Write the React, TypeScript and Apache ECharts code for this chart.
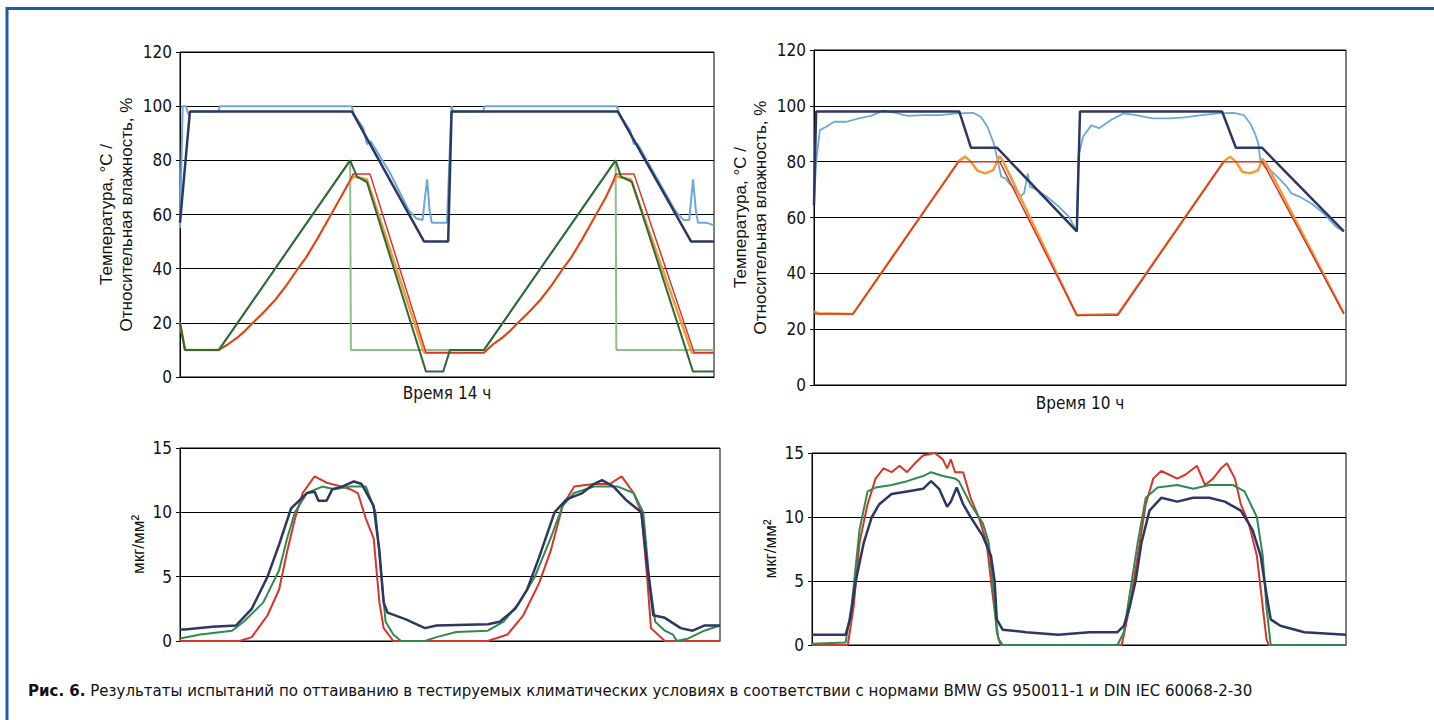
import React, { useEffect, useRef } from "react";
import * as echarts from "echarts";

type Pt = [number, number];

// ---------- Panel 1: 14 h test (temperature °C / RH %) ----------
const p1HumidityMeasured: Pt[] = [
  [0, 55], [0.07, 100], [0.15, 100], [0.22, 97], [0.3, 98], [1.0, 98], [1.05, 100], [4.5, 100],
  [4.56, 97], [4.8, 92], [4.9, 86], [5.0, 87], [5.5, 75.5], [6.0, 61.5], [6.2, 58.5], [6.36, 58],
  [6.42, 66], [6.48, 73], [6.54, 62], [6.6, 57], [6.69, 57], [7.0, 57], [7.05, 75], [7.12, 100],
  [7.16, 98], [7.94, 98], [7.99, 100], [11.45, 100], [11.52, 97], [11.8, 91], [11.9, 86],
  [12.0, 86], [12.5, 73.5], [13.0, 61], [13.2, 58], [13.35, 58], [13.45, 73], [13.52, 62],
  [13.58, 57], [13.8, 57], [14.0, 56],
];
const p1HumiditySet: Pt[] = [
  [0, 57], [0.26, 98], [4.51, 98], [6.4, 50], [7.0, 50], [7.03, 50], [7.12, 98],
  [11.48, 98], [13.4, 50], [14.0, 50],
];
const p1TempSet: Pt[] = [
  [0, 20], [0.13, 10], [1.02, 10], [4.46, 80], [4.64, 74], [4.9, 72], [6.45, 2], [6.9, 2],
  [7.08, 10], [7.97, 10], [11.42, 80], [11.56, 74], [11.85, 72], [13.45, 2], [14.0, 2],
];
const p1TempChamber: Pt[] = [
  [0, 20], [0.13, 10], [1.02, 10], [4.46, 80], [4.48, 10], [7.97, 10], [11.42, 80],
  [11.44, 10], [14.0, 10],
];
const p1TempSample: Pt[] = [
  [0, 20], [0.13, 10], [1.02, 10], [1.25, 12], [1.5, 14.5], [1.7, 17], [1.91, 20], [2.2, 24],
  [2.5, 28.5], [2.8, 34], [3.09, 40], [3.3, 44], [3.6, 51], [3.96, 60], [4.2, 66], [4.4, 71],
  [4.54, 74], [4.9, 73], [6.4, 9], [7.97, 9], [8.2, 12], [8.45, 14.5], [8.65, 17], [8.86, 20],
  [9.15, 24], [9.45, 28.5], [9.75, 34], [10.04, 40], [10.25, 44], [10.55, 51], [10.91, 60],
  [11.15, 66], [11.32, 71], [11.43, 74], [11.82, 73], [13.42, 9], [14.0, 9],
];
const p1TempSurface: Pt[] = [
  [0, 20], [0.13, 10], [1.02, 10], [1.25, 12], [1.5, 14.5], [1.7, 17], [1.91, 20], [2.2, 24],
  [2.5, 28.5], [2.8, 34], [3.09, 40], [3.3, 44], [3.6, 51], [3.96, 60], [4.2, 66], [4.4, 71],
  [4.54, 75], [4.98, 75], [6.45, 9], [7.97, 9], [8.2, 12], [8.45, 14.5], [8.65, 17], [8.86, 20],
  [9.15, 24], [9.45, 28.5], [9.75, 34], [10.04, 40], [10.25, 44], [10.55, 51], [10.91, 60],
  [11.15, 66], [11.32, 71], [11.43, 75], [11.9, 75], [13.48, 9], [14.0, 9],
];

// ---------- Panel 2: 10 h test ----------
const p2HumidityMeasured: Pt[] = [
  [0, 64.5], [0.04, 80], [0.11, 91.3], [0.23, 92.5], [0.38, 94.3], [0.61, 94.3], [0.84, 95.5],
  [1.07, 96.4], [1.3, 98.3], [1.53, 97.5], [1.76, 96.4], [2.07, 96.7], [2.38, 96.7], [2.68, 97.3],
  [2.99, 97.5], [3.14, 96], [3.26, 92.5], [3.33, 89], [3.39, 86], [3.45, 80.6], [3.52, 74.6],
  [3.6, 74], [3.68, 72], [3.75, 71], [3.87, 67.5], [3.95, 68.7], [4.02, 75.8], [4.06, 71],
  [4.18, 70], [4.37, 67.5], [4.6, 63.9], [4.79, 60.3], [4.94, 55], [4.97, 81.8], [5.06, 89],
  [5.21, 93], [5.36, 92], [5.59, 95], [5.82, 97.3], [6.05, 96.7], [6.36, 95.5], [6.67, 95.5],
  [6.97, 95.9], [7.28, 96.7], [7.59, 97.3], [7.89, 97.5], [8.08, 96.7], [8.2, 93.7], [8.29, 90],
  [8.35, 86.6], [8.39, 80.6], [8.47, 78.2], [8.58, 77], [8.74, 74], [8.89, 71], [8.97, 68.7],
  [9.12, 67.5], [9.35, 65], [9.58, 61.5], [9.81, 56.7], [9.96, 55],
];
const p2HumiditySet: Pt[] = [
  [0, 64.5], [0.04, 98], [2.73, 98], [2.95, 85], [3.44, 85], [4.94, 55], [5.0, 98],
  [7.67, 98], [7.93, 85], [8.42, 85], [9.96, 55],
];
const p2TempSample: Pt[] = [
  [0, 26.3], [0.08, 25.7], [0.73, 25.4], [2.72, 80.2], [2.84, 81.8], [2.95, 80], [3.07, 76.8],
  [3.22, 75.8], [3.37, 77], [3.49, 82], [3.56, 80], [4.94, 25], [5.71, 25.4], [7.7, 80],
  [7.82, 81.8], [7.93, 80], [8.05, 76.4], [8.2, 75.8], [8.35, 77], [8.43, 81], [8.51, 79],
  [9.96, 25.7],
];
const p2TempChamber: Pt[] = [
  [0, 25.8], [0.08, 25.4], [0.73, 25.4], [2.72, 80], [3.49, 80], [4.94, 25], [5.71, 25],
  [7.7, 80], [8.43, 80], [9.96, 25.5],
];

// ---------- Panel 3: 14 h test, condensed water µg/mm² ----------
const p3Red: Pt[] = [
  [0, 0], [1.55, 0], [1.86, 0.3], [2.27, 2], [2.57, 4], [2.78, 7], [2.98, 9.5], [3.18, 11.5],
  [3.49, 12.8], [3.8, 12.3], [4.2, 12], [4.41, 11.8], [4.61, 11.5], [4.82, 9.5], [5.02, 8],
  [5.17, 3], [5.28, 1], [5.53, 0], [7.98, 0], [8.49, 0.5], [8.9, 2], [9.31, 4.5], [9.61, 7],
  [9.92, 10.5], [10.22, 12], [10.73, 12.2], [11.14, 12.2], [11.45, 12.8], [11.76, 11.5],
  [11.96, 10], [12.11, 5], [12.21, 1], [12.57, 0], [14.0, 0],
];
const p3Green: Pt[] = [
  [0, 0.2], [0.53, 0.5], [1.35, 0.8], [1.65, 1.5], [2.16, 3], [2.57, 5.5], [2.78, 8], [2.98, 10],
  [3.29, 11.5], [3.69, 12], [4.0, 11.8], [4.41, 12], [4.82, 12], [5.07, 10], [5.22, 5],
  [5.33, 1.5], [5.53, 0.5], [5.73, 0], [6.35, 0], [6.65, 0.3], [7.16, 0.7], [7.98, 0.8],
  [8.39, 1.5], [8.8, 3], [9.2, 5], [9.61, 8], [9.92, 10.5], [10.22, 11.5], [10.73, 12],
  [11.35, 12], [11.76, 11.5], [12.01, 10], [12.16, 5], [12.32, 1.5], [12.57, 0.8], [12.78, 0.5],
  [12.88, 0], [13.18, 0.2], [13.59, 0.8], [14.0, 1.2],
];
const p3Navy: Pt[] = [
  [0, 0.9], [0.12, 0.9], [0.84, 1.1], [1.45, 1.2], [1.86, 2.5], [2.27, 5], [2.57, 7.5],
  [2.88, 10.3], [3.29, 11.5], [3.49, 11.6], [3.59, 10.9], [3.8, 10.9], [3.95, 11.8], [4.2, 12],
  [4.51, 12.4], [4.71, 12.2], [5.02, 10.5], [5.17, 7], [5.28, 3], [5.38, 2.2], [5.84, 1.7],
  [6.35, 1.0], [6.65, 1.2], [7.98, 1.3], [8.29, 1.5], [8.69, 2.5], [9.0, 4], [9.31, 6.5],
  [9.71, 10], [10.02, 11], [10.43, 11.5], [10.73, 12.2], [10.94, 12.5], [11.24, 12],
  [11.55, 11], [11.96, 10], [12.11, 6], [12.27, 2], [12.57, 1.8], [12.98, 1], [13.29, 0.8],
  [13.59, 1.2], [14.0, 1.2],
];

// ---------- Panel 4: 10 h test, condensed water µg/mm² ----------
const p4Red: Pt[] = [
  [0, 0], [0.67, 0], [0.78, 3], [0.89, 8], [1.04, 11], [1.19, 13], [1.34, 13.8], [1.49, 13.5],
  [1.64, 14], [1.78, 13.5], [1.93, 14.2], [2.08, 14.8], [2.3, 15], [2.45, 14.5], [2.53, 13.8],
  [2.6, 14.5], [2.68, 13.5], [2.83, 13.5], [2.97, 11.5], [3.12, 10], [3.27, 8], [3.38, 4],
  [3.49, 0.5], [3.57, 0], [5.8, 0], [5.95, 3], [6.1, 7], [6.25, 11], [6.39, 13], [6.54, 13.6],
  [6.69, 13.3], [6.84, 13], [6.99, 13.3], [7.21, 14], [7.36, 12.5], [7.51, 13], [7.66, 13.8],
  [7.77, 14.2], [7.92, 13], [8.03, 11], [8.18, 9.5], [8.33, 7], [8.44, 3], [8.51, 0.5],
  [8.55, 0], [9.29, 0],
];
const p4Green: Pt[] = [
  [0, 0.1], [0.63, 0.2], [0.74, 3], [0.89, 9], [1.04, 12], [1.19, 12.3], [1.49, 12.5],
  [1.78, 12.8], [2.08, 13.2], [2.23, 13.5], [2.45, 13.2], [2.68, 13], [2.75, 12.8], [2.97, 11],
  [3.2, 9.5], [3.31, 8], [3.38, 5], [3.46, 1], [3.53, 0], [5.72, 0], [5.84, 1], [5.95, 4],
  [6.1, 8], [6.25, 11.5], [6.47, 12.3], [6.84, 12.5], [7.14, 12.2], [7.44, 12.5], [7.88, 12.5],
  [8.1, 12], [8.33, 10], [8.44, 7], [8.51, 3], [8.59, 0], [10.0, 0],
];
const p4Navy: Pt[] = [
  [0, 0.8], [0.63, 0.8], [0.71, 2], [0.82, 5], [0.97, 8], [1.12, 10], [1.26, 11], [1.49, 11.8],
  [1.78, 12], [2.08, 12.2], [2.23, 12.8], [2.38, 12.2], [2.53, 10.8], [2.6, 11.2], [2.71, 12.3],
  [2.83, 11], [2.97, 10], [3.2, 8.5], [3.35, 7], [3.42, 5], [3.46, 2], [3.57, 1.2], [4.01, 1],
  [4.61, 0.8], [5.2, 1.0], [5.72, 1.0], [5.84, 1.5], [5.95, 3], [6.06, 5], [6.17, 8],
  [6.32, 10.5], [6.54, 11.5], [6.84, 11.2], [7.14, 11.5], [7.44, 11.5], [7.73, 11.2],
  [8.03, 10.5], [8.25, 9], [8.4, 7], [8.51, 4], [8.59, 2], [8.77, 1.5], [9.22, 1], [10.0, 0.8],
];

// ---------- Texts ----------
const tempAxisName = "Температура, °C /\nОтносительная влажность, %";
const massAxisName = "мкг/мм²";
const xName14 = "Время 14 ч";
const xName10 = "Время 10 ч";
const captionBold = "Рис. 6.";
const captionText =
  " Результаты испытаний по оттаиванию в тестируемых климатических условиях в соответствии с нормами BMW GS 950011-1 и DIN IEC 60068-2-30";

const C = {
  lightBlue: "#6aa8da",
  navy: "#2d3763",
  darkGreen: "#2f6a36",
  lightGreen: "#8dbf8b",
  orange: "#f29a38",
  red: "#d8342a",
  green3: "#2f8a4e",
};

const FONT = '"Liberation Sans", Arial, sans-serif';
const FONT_N = '"DejaVu Sans Condensed", "Liberation Sans Narrow", sans-serif';

function yAxis(gridIndex: number, max: number, interval: number, name: string, nameGap: number) {
  return {
    type: "value",
    gridIndex,
    min: 0,
    max,
    interval,
    name,
    nameLocation: "middle",
    nameGap,
    nameTextStyle: { fontFamily: FONT, fontSize: 17, color: "#111", lineHeight: 20 },
    axisLine: { show: true, lineStyle: { color: "#000", width: 1 } },
    axisTick: { show: true, length: 4, lineStyle: { color: "#000", width: 1 } },
    axisLabel: { fontFamily: FONT_N, fontSize: 17, color: "#111", margin: 8 },
    splitLine: { show: true, lineStyle: { color: "#000", width: 1 } },
  };
}

function xAxis(gridIndex: number, max: number, name: string, nameGap: number) {
  return {
    type: "value",
    gridIndex,
    min: 0,
    max,
    name,
    nameLocation: "middle",
    nameGap,
    nameTextStyle: { fontFamily: FONT_N, fontSize: 17, color: "#111" },
    axisLine: { show: true, onZero: false, lineStyle: { color: "#000", width: 1 } },
    axisTick: { show: false },
    axisLabel: { show: false },
    splitLine: { show: false },
  };
}

function line(data: Pt[], idx: number, color: string, width = 2, z = 2) {
  return {
    type: "line",
    xAxisIndex: idx,
    yAxisIndex: idx,
    data,
    showSymbol: false,
    symbol: "none",
    smooth: false,
    z,
    lineStyle: { color, width },
    emphasis: { disabled: true },
  };
}

export default function App() {
  const ref = useRef<HTMLDivElement>(null);
  useEffect(() => {
    if (!ref.current) return;
    const chart = echarts.init(ref.current, undefined, { renderer: "svg" });
    chart.setOption({
      animation: false,
      backgroundColor: "#ffffff",
      grid: [
        { left: 180, top: 52, width: 534, height: 325, show: true, borderColor: "#000", borderWidth: 1 },
        { left: 814, top: 50, width: 532, height: 335, show: true, borderColor: "#000", borderWidth: 1 },
        { left: 180, top: 448, width: 540, height: 193, show: true, borderColor: "#000", borderWidth: 1 },
        { left: 812, top: 453, width: 534, height: 192, show: true, borderColor: "#000", borderWidth: 1 },
      ],
      xAxis: [
        xAxis(0, 14, xName14, 7),
        xAxis(1, 10, xName10, 9),
        xAxis(2, 14, "", 10),
        xAxis(3, 10, "", 10),
      ],
      yAxis: [
        yAxis(0, 120, 20, tempAxisName, 44),
        yAxis(1, 120, 20, tempAxisName, 44),
        yAxis(2, 15, 5, massAxisName, 27),
        yAxis(3, 15, 5, massAxisName, 27),
      ],
      series: [
        line(p1TempChamber, 0, C.lightGreen, 2, 2),
        line(p1HumidityMeasured, 0, C.lightBlue, 2, 3),
        line(p1TempSample, 0, C.orange, 2.5, 4),
        line(p1TempSurface, 0, C.red, 1.5, 5),
        line(p1TempSet, 0, C.darkGreen, 2, 6),
        line(p1HumiditySet, 0, C.navy, 2.5, 7),

        line(p2HumidityMeasured, 1, C.lightBlue, 1.8, 3),
        line(p2TempSample, 1, C.orange, 2.5, 4),
        line(p2TempChamber, 1, C.red, 1.5, 5),
        line(p2HumiditySet, 1, C.navy, 2.5, 7),

        line(p3Red, 2, C.red, 2, 3),
        line(p3Green, 2, C.green3, 2, 4),
        line(p3Navy, 2, C.navy, 2.5, 5),

        line(p4Red, 3, C.red, 2, 3),
        line(p4Green, 3, C.green3, 2, 4),
        line(p4Navy, 3, C.navy, 2.5, 5),
      ],
      graphic: [
        { type: "line", shape: { x1: 6, y1: 8.5, x2: 1434, y2: 8.5 }, style: { stroke: "#1d5ca8", lineWidth: 3 } },
        { type: "line", shape: { x1: 7, y1: 7, x2: 7, y2: 720 }, style: { stroke: "#1d5ca8", lineWidth: 3 } },
        {
          type: "text",
          left: 28,
          top: 681,
          style: {
            text: "{b|" + captionBold + "}{r|" + captionText + "}",
            rich: {
              b: { fontFamily: FONT_N, fontWeight: "bold", fontSize: 16.7, fill: "#111" },
              r: { fontFamily: FONT_N, fontSize: 16.7, fill: "#111" },
            },
          },
        },
      ],
    });
    return () => chart.dispose();
  }, []);
  return (
    <div
      ref={ref}
      style={{ position: "fixed", left: 0, top: 0, width: 1434, height: 720, background: "#fff" }}
    />
  );
}
